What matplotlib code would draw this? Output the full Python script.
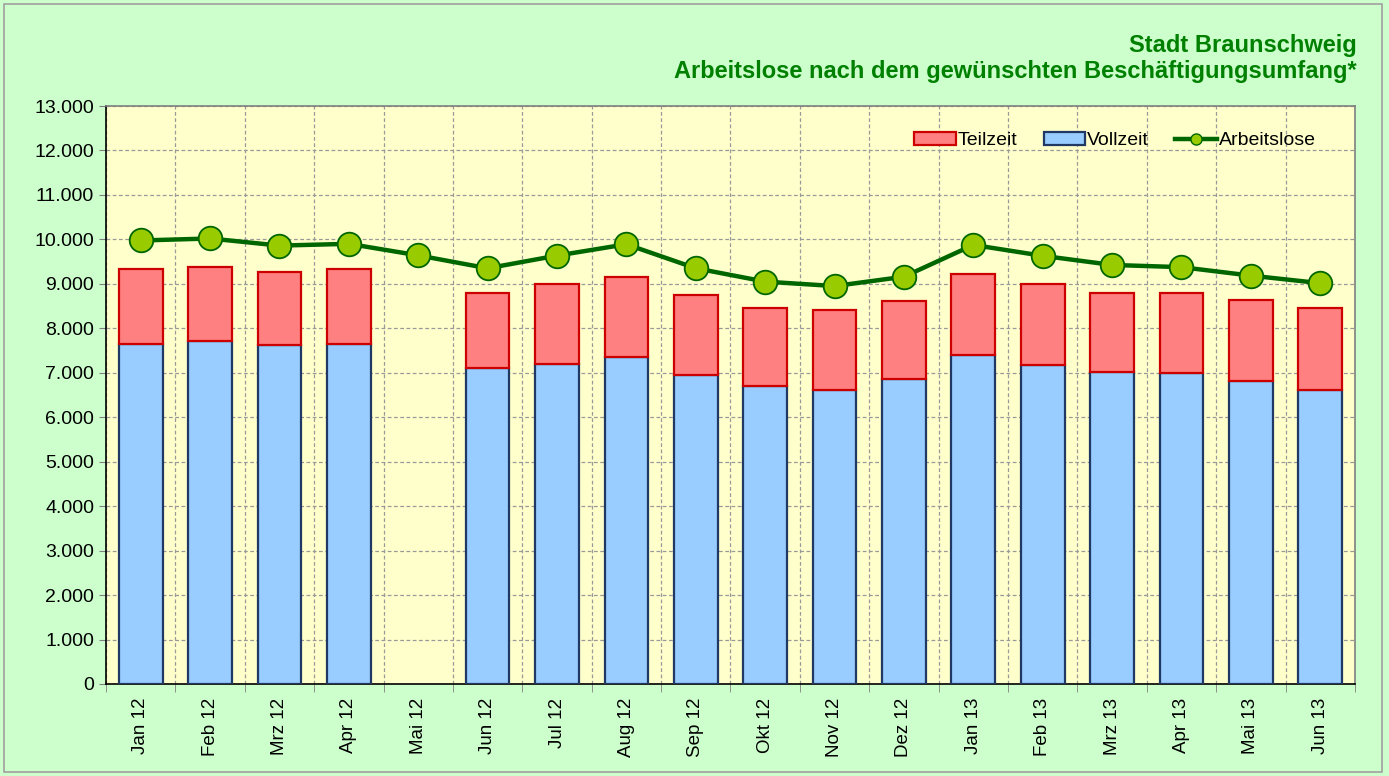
import matplotlib
matplotlib.use("Agg")
import matplotlib.pyplot as plt
import numpy as np
from matplotlib.ticker import FuncFormatter, FixedLocator
from matplotlib.patches import Rectangle, Patch
from matplotlib.lines import Line2D

# Daten
monate = ['Jan 12', 'Feb 12', 'Mrz 12', 'Apr 12', 'Mai 12', 'Jun 12', 'Jul 12', 'Aug 12', 'Sep 12',
          'Okt 12', 'Nov 12', 'Dez 12', 'Jan 13', 'Feb 13', 'Mrz 13', 'Apr 13', 'Mai 13', 'Jun 13']
vollzeit = [7650, 7710, 7630, 7650, np.nan, 7100, 7195, 7350, 6950,
            6700, 6610, 6850, 7400, 7180, 7025, 6990, 6810, 6610]
gesamt_bar = [9340, 9380, 9270, 9340, np.nan, 8800, 9000, 9160, 8745,
              8450, 8410, 8620, 9220, 8990, 8790, 8790, 8640, 8450]
arbeitslose = [9975, 10020, 9860, 9900, 9640, 9350, 9635, 9890, 9350,
               9050, 8950, 9160, 9875, 9630, 9425, 9375, 9185, 9015]

teilzeit = [g - v for g, v in zip(gesamt_bar, vollzeit)]

plt.rcParams['font.family'] = ['Liberation Sans', 'DejaVu Sans']

fig = plt.figure(figsize=(13.89, 7.76), dpi=100, facecolor='#CCFFCC')
ax = fig.add_axes([0.0763, 0.1186, 0.8992, 0.7448])
ax.set_facecolor('#FFFFCC')

x = np.arange(len(monate))
breite = 0.63

# Balken: Vollzeit unten, Teilzeit oben drauf
ax.bar(x, vollzeit, breite, color='#99CCFF', edgecolor='#1F3864', linewidth=1.6, zorder=3)
ax.bar(x, teilzeit, breite, bottom=vollzeit, color='#FF8080', edgecolor='#CC0000',
       linewidth=1.6, zorder=3)

# Linie Arbeitslose
ax.plot(x, arbeitslose, color='#006600', linewidth=3.2, marker='o', markersize=17,
        markerfacecolor='#99CC00', markeredgecolor='#006600', markeredgewidth=1.3, zorder=4)

# Achsen
ax.set_xlim(-0.5, len(monate) - 0.5)
ax.set_ylim(0, 13000)
ax.yaxis.set_major_locator(FixedLocator(np.arange(0, 13001, 1000)))
ax.yaxis.set_major_formatter(FuncFormatter(lambda v, p: f'{int(v):,}'.replace(',', '.')))
ax.set_xticks(x)
ax.set_xticklabels(monate, rotation=90, fontsize=13.5)
ax.tick_params(axis='x', which='major', length=0, pad=10)
ax.set_xticks(np.arange(-0.5, len(monate), 1), minor=True)
ax.tick_params(axis='x', which='minor', length=6, color='#808080')
ax.tick_params(axis='y', labelsize=14, length=5, color='#808080')

ax.grid(True, which='minor', axis='x', linestyle=(0, (3, 2)), color='#999999', linewidth=0.9, zorder=0)
ax.grid(True, which='major', axis='y', linestyle=(0, (3, 2)), color='#999999', linewidth=0.9, zorder=0)
ax.set_axisbelow(True)

for s in ['top', 'right']:
    ax.spines[s].set_color('#808080')
    ax.spines[s].set_linewidth(1.2)
for s in ['left', 'bottom']:
    ax.spines[s].set_color('black')
    ax.spines[s].set_linewidth(1.2)

# Legende (kleinere Marker als im Diagramm)
handles = [
    Patch(facecolor='#FF8080', edgecolor='#CC0000', linewidth=1.6),
    Patch(facecolor='#99CCFF', edgecolor='#1F3864', linewidth=1.6),
    Line2D([], [], color='#006600', linewidth=3.2, marker='o', markersize=8,
           markerfacecolor='#99CC00', markeredgecolor='#006600', markeredgewidth=1.0),
]
ax.legend(handles, ['Teilzeit', 'Vollzeit', 'Arbeitslose'], loc='upper right', ncol=3,
          frameon=False, fontsize=14, handlelength=2.15, handleheight=0.6, handletextpad=0.1,
          columnspacing=1.35, bbox_to_anchor=(0.983, 0.985))

# Titel
fig.text(0.9765, 0.942, 'Stadt Braunschweig', ha='right', va='center', fontsize=17,
         fontweight='bold', color='#008000')
fig.text(0.9765, 0.908, 'Arbeitslose nach dem gewünschten Beschäftigungsumfang*', ha='right',
         va='center', fontsize=17, fontweight='bold', color='#008000')

# Rahmen um die Grafik
fig.patches.append(Rectangle((0.003, 0.005), 0.992, 0.99, transform=fig.transFigure,
                             fill=False, edgecolor='#A0A0A0', linewidth=1.2))

fig.savefig('out.png', dpi=100, facecolor=fig.get_facecolor())
